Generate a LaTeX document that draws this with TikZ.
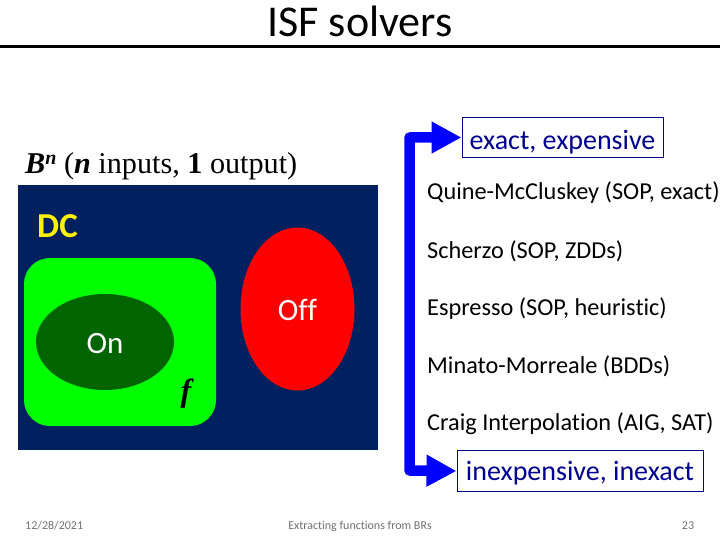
\documentclass[tikz,border=0pt]{standalone}
\usepackage{fontspec}
\setmainfont{Carlito}[RawFeature=-liga]
\newfontfamily\serifface{Liberation Serif}
\usetikzlibrary{arrows.meta,calc,shapes.geometric}
\definecolor{navybg}{HTML}{002060}
\definecolor{greenf}{HTML}{00FF00}
\definecolor{darkon}{HTML}{006400}
\definecolor{boxblue}{HTML}{000090}
\definecolor{footgray}{HTML}{707070}
\tikzset{
  txt/.style={inner sep=0pt,anchor=west,font=\fontsize{24.3}{27}\selectfont},
  bluebox/.style={draw=boxblue,line width=1pt,text=boxblue,inner sep=0pt,font=\fontsize{28}{31}\selectfont,minimum height=40.5pt,align=center},
  foot/.style={inner sep=0pt,text=footgray,font=\fontsize{12}{14}\selectfont},
  bigarrow/.style={draw=blue,line width=10.5pt,line join=round,{Triangle[length=30pt,width=30pt]}-{Triangle[length=30pt,width=30pt]}}
}
\begin{document}
\begin{tikzpicture}[x=1pt,y=-1pt]
\useasboundingbox (0,0) rectangle (720,540);
\node[inner sep=0pt,font=\fontsize{44}{48}\selectfont] (title) at (360,21.5) {ISF solvers};
\coordinate (ruleL) at (0,46.5);
\coordinate (ruleR) at (720,46.5);
\draw[line width=3pt] (ruleL) -- (ruleR);
\fill[navybg] (18,185) rectangle (378,450);
\fill[greenf,rounded corners=26pt] (24,258) rectangle (216,426);
\node[fill=darkon,ellipse,draw=none,minimum width=138pt,minimum height=96pt,inner sep=0pt] (on) at (105,342) {};
\node[fill=red,ellipse,minimum width=114pt,minimum height=163pt,inner sep=0pt] (off) at (297.5,309) {};
\node[inner sep=0pt,text=white,font=\fontsize{31}{34}\selectfont] (ontxt) at (105,344) {On};
\node[inner sep=0pt,text=white,font=\fontsize{31}{34}\selectfont] (offtxt) at (297.5,310) {Off};
\node[inner sep=0pt,text=yellow,font=\fontsize{35}{38}\bfseries] (dc) at (57.5,226) {DC};
\node[inner sep=0pt,font=\serifface\fontsize{32}{34}\bfseries\itshape] (f) at (186,394) {f};
\node[inner sep=0pt,anchor=west,font=\serifface\fontsize{30.2}{33}\selectfont] (bn) at (25,166) {\textbf{\textit{B}}\raisebox{9pt}{\fontsize{20}{22}\selectfont\textbf{\textit{n}}} (\textbf{\textit{n}} inputs, \textbf{1} output)};
\node[bluebox,minimum width=201pt] (ex) at (562.5,137.5) {\raisebox{-12pt}[0pt][0pt]{exact, expensive}};
\node[bluebox,minimum width=246pt] (inex) at (580,471) {\raisebox{-9.5pt}[0pt][0pt]{inexpensive, inexact}};
\node[txt] (q) at (427,193) {Quine-McCluskey (SOP, exact)};
\node[txt] (s) at (427,251) {Scherzo (SOP, ZDDs)};
\node[txt] (e) at (427,309) {Espresso (SOP, heuristic)};
\node[txt] (m) at (427,366) {Minato-Morreale (BDDs)};
\node[txt] (c) at (427,424) {Craig Interpolation (AIG, SAT)};
\coordinate (t1) at (409.5,137.5);
\coordinate (t2) at (409.5,470.5);
\draw[bigarrow] (ex.west) -- (t1) -- (t2) -- (inex.west);
\node[foot,anchor=west] (d) at (25,526) {12/28/2021};
\node[foot] (x) at (360,526) {Extracting functions from BRs};
\node[foot] (p) at (688,526) {23};
\end{tikzpicture}
\end{document}
